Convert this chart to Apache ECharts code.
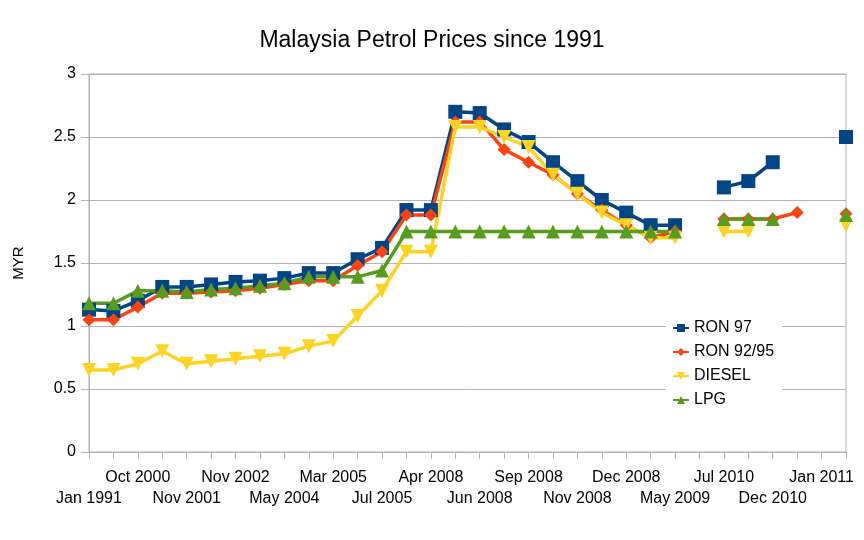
<!DOCTYPE html>
<html>
<head>
<meta charset="utf-8">
<title>Malaysia Petrol Prices since 1991</title>
<script src="https://cdn.jsdelivr.net/npm/echarts@6/dist/echarts.min.js"></script>
<style>
	html, body { margin: 0; padding: 0; background: #fff; }
	#chart { width: 864px; height: 540px; }
</style>
</head>
<body>
<div id="chart"></div>
<script>
// only the even categories are printed on the axis
const categories = [
	"Jan 1991", "Jan 2000", "Oct 2000", "Jun 2001", "Nov 2001", "May 2002", "Nov 2002", "May 2003",
	"May 2004", "Oct 2004", "Mar 2005", "May 2005", "Jul 2005", "Feb 2006", "Apr 2008", "May 2008",
	"Jun 2008", "Aug 2008", "Sep 2008", "Oct 2008", "Nov 2008", "Early Dec 2008", "Dec 2008", "Feb 2009",
	"May 2009", "Dec 2009", "Jul 2010", "Oct 2010", "Dec 2010", "Late Dec 2010", "Jan 2011", "Feb 2011"
];

const ron97 = [1.13, 1.12, 1.20, 1.31, 1.31, 1.33, 1.35, 1.36, 1.38, 1.42, 1.42, 1.53, 1.62, 1.92, 1.92, 2.70,
	2.69, 2.56, 2.46, 2.30, 2.15, 2.00, 1.90, 1.80, 1.80, null, 2.10, 2.15, 2.30, null, null, 2.50];
const ron9295 = [1.05, 1.05, 1.15, 1.26, 1.26, 1.27, 1.28, 1.30, 1.33, 1.36, 1.36, 1.48, 1.59, 1.88, 1.88, 2.62,
	2.62, 2.40, 2.30, 2.20, 2.05, 1.92, 1.80, 1.70, 1.75, null, 1.85, 1.85, 1.85, 1.90, null, 1.89];
const diesel = [0.65, 0.65, 0.70, 0.80, 0.70, 0.72, 0.74, 0.76, 0.78, 0.84, 0.88, 1.08, 1.28, 1.59, 1.59, 2.58,
	2.58, 2.50, 2.42, 2.20, 2.05, 1.90, 1.80, 1.70, 1.70, null, 1.75, 1.75, null, null, null, 1.80];
const lpg = [1.18, 1.18, 1.28, 1.28, 1.27, 1.29, 1.30, 1.32, 1.34, 1.39, 1.39, 1.39, 1.44, 1.75, 1.75, 1.75,
	1.75, 1.75, 1.75, 1.75, 1.75, 1.75, 1.75, 1.75, 1.75, null, 1.85, 1.85, 1.85, null, null, 1.88];

const font = "Liberation Sans";
const gray = "#b3b3b3";

function lineSeries(name, data, color, symbol, size, rotate) {
	return {
		name: name,
		type: "line",
		data: data,
		symbol: symbol,
		symbolSize: size,
		symbolRotate: rotate || 0,
		connectNulls: false,
		lineStyle: { color: color, width: 3.5 },
		itemStyle: { color: color },
		emphasis: { disabled: true },
	};
}

const option = {
	animation: false,
	backgroundColor: "#fff",
	title: {
		text: "Malaysia Petrol Prices since 1991",
		left: "center",
		top: 24,
		textStyle: { fontFamily: font, fontSize: 23, fontWeight: "normal", color: "#000" },
	},
	legend: {
		orient: "vertical",
		left: 666,
		top: 316,
		padding: [4, 8, 6, 6],
		backgroundColor: "#fff",
		itemWidth: 16,
		itemHeight: 10,
		itemGap: 8,
		textStyle: { fontFamily: font, fontSize: 16, color: "#000" },
		data: ["RON 97", "RON 92/95", "DIESEL", "LPG"],
	},
	grid: {
		left: 89,
		right: 18,
		top: 74,
		bottom: 88,
		show: true,
		borderColor: gray,
		borderWidth: 1,
	},
	xAxis: {
		type: "category",
		data: categories,
		boundaryGap: false,
		axisLine: { lineStyle: { color: gray, width: 1 } },
		axisTick: { show: true, length: 7, interval: 0, lineStyle: { color: gray } },
		axisLabel: {
			interval: 0,
			margin: 15,
			fontFamily: font,
			fontSize: 16,
			color: "#000",
			lineHeight: 21,
			formatter: function (value, index) {
				if (index % 2) return "";
				return index % 4 === 0 ? "\n" + value : value;
			},
		},
		splitLine: { show: false },
	},
	yAxis: {
		type: "value",
		min: 0,
		max: 3,
		interval: 0.5,
		name: "MYR",
		nameLocation: "middle",
		nameGap: 63,
		nameTextStyle: { fontFamily: font, fontSize: 15, color: "#000" },
		axisLine: { show: true, lineStyle: { color: gray, width: 1 } },
		axisTick: { show: true, length: 8, lineStyle: { color: gray } },
		axisLabel: { margin: 13, fontFamily: font, fontSize: 16, color: "#000" },
		splitLine: { lineStyle: { color: gray, width: 1 } },
	},
	series: [
		lineSeries("RON 97", ron97, "#004586", "rect", 14),
		lineSeries("RON 92/95", ron9295, "#ff420e", "diamond", 13),
		lineSeries("DIESEL", diesel, "#ffd320", "triangle", 14, 180),
		lineSeries("LPG", lpg, "#579d1c", "triangle", 14),
	],
};

const chart = echarts.init(document.getElementById("chart"));
chart.setOption(option);
</script>
</body>
</html>
